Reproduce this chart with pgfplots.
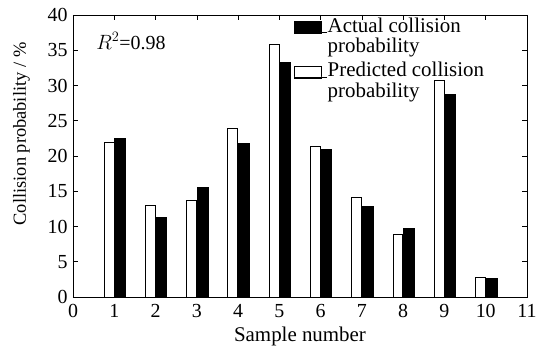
\documentclass[border=0pt]{standalone}
\usepackage{pgfplots}
\pgfplotsset{compat=1.18}
\usepackage{fontspec}
\setmainfont{Liberation Serif}
\newcommand{\two}[2]{\begin{tabular}[t]{@{}l@{}}#1\\#2\end{tabular}}
\begin{document}
\fontsize{19}{21}\selectfont
\begin{tikzpicture}
\begin{axis}[
  scale only axis,
  width=454bp, height=282bp,
  xmin=0, xmax=11, ymin=0, ymax=40,
  xtick={0,1,...,11}, ytick={0,5,...,40},
  tick align=inside,
  major tick length=5bp,
  tick style={black, line width=0.6pt},
  axis line style={line width=0.8pt},
  /pgf/number format/assume math mode=true,
  ticklabel style={font=\fontsize{20}{22}\selectfont},
  xticklabel style={yshift=-1bp},
  yticklabel style={xshift=1bp},
  xlabel style={font=\fontsize{21}{23}\selectfont, yshift=4bp},
  ylabel style={font=\fontsize{18.5}{20}\selectfont, at={(ticklabel cs:0.578)}, yshift=5bp},
  xlabel={Sample number},
  ylabel={Collision probability / \%},
  reverse legend,
  legend style={draw=none, fill=none, at={(0.487,0.989)}, anchor=north west,
    inner sep=0pt, outer sep=0pt,
    font=\fontsize{21}{19.5}\selectfont, cells={anchor=base west},
    nodes={inner sep=0pt, outer sep=0pt},
    row sep=27bp, column sep=0pt},
  legend image code/.code={\draw[#1, line width=0.6pt] (0bp,-1bp) rectangle (27bp,11bp);
    \path (0,0) -- (33bp,0);},
]
\addplot[ybar, bar width=0.24, bar shift=-0.13, fill=white, draw=black, line width=0.6pt]
  coordinates {(1,22.0) (2,12.95) (3,13.7) (4,23.9) (5,35.8) (6,21.4) (7,14.1) (8,8.9) (9,30.8) (10,2.8)};
\addplot[ybar, bar width=0.26, bar shift=0.14, fill=black, draw=black, line width=0.6pt]
  coordinates {(1,22.5) (2,11.3) (3,15.5) (4,21.8) (5,33.3) (6,20.9) (7,12.9) (8,9.7) (9,28.7) (10,2.6)};
\legend{{\two{Predicted collision}{probability}},{\two{Actual collision}{probability}}}
\node[anchor=west, inner sep=0pt, font=\fontsize{20}{22}\selectfont] at (axis cs:0.56,36.3) {$R^2$=0.98};
\coordinate (sw) at (rel axis cs:0,0);
\coordinate (ne) at (rel axis cs:1,1);
\end{axis}
\pgfresetboundingbox
\path ([shift={(-73bp,-59bp)}]sw) rectangle ([shift={(9bp,15bp)}]ne);
\end{tikzpicture}
\end{document}
